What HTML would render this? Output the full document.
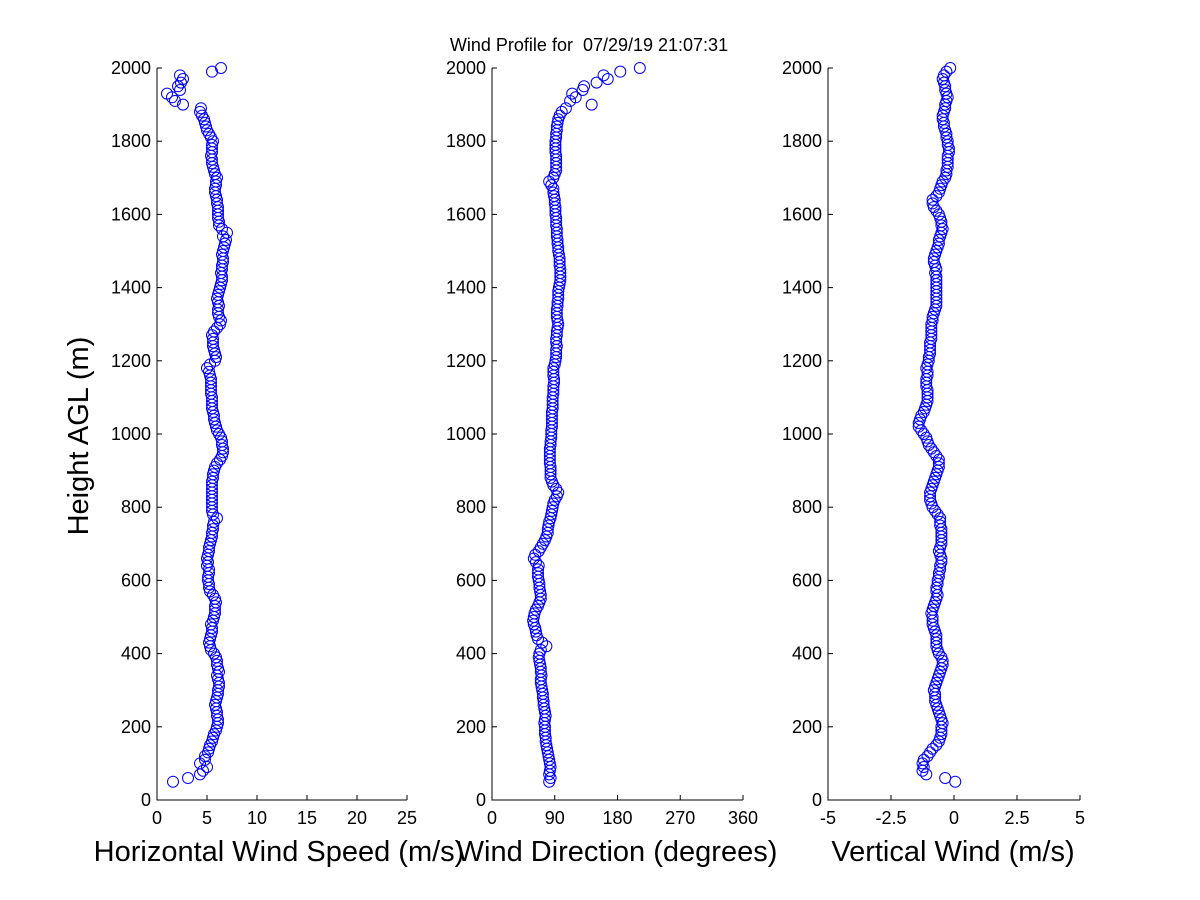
<!DOCTYPE html>
<html><head><meta charset="utf-8"><style>
html,body{margin:0;padding:0;background:#fff;}
svg{display:block;font-family:"Liberation Sans",Arial,sans-serif;}
</style></head><body>
<svg id="chart" width="1200" height="900" viewBox="0 0 1200 900">
<rect width="1200" height="900" fill="#fff"/>
<text x="589" y="51" font-size="18" text-anchor="middle" xml:space="preserve">Wind Profile for  07/29/19 21:07:31</text>
<text transform="translate(88,436) rotate(-90)" font-size="29" text-anchor="middle">Height AGL (m)</text>
</svg>
<script>
const heightStart = 50, heightStep = 10;
const speedValues = [1.6,3.1,4.3,4.6,5.0,
4.3,4.8,4.8,5.1,5.2,5.3,5.5,5.6,5.7,5.9,
6.0,6.1,6.1,6.0,6.0,5.9,5.8,5.9,6.0,6.1,
6.1,6.2,6.2,6.1,6.0,6.2,6.1,6.0,6.0,5.9,
5.7,5.4,5.3,5.2,5.3,5.4,5.5,5.5,5.4,5.6,
5.7,5.8,5.8,5.8,5.9,5.8,5.6,5.3,5.2,5.2,
5.1,5.1,5.2,5.2,5.0,5.1,5.0,5.1,5.2,5.2,
5.3,5.4,5.5,5.5,5.6,5.6,5.7,6.0,5.6,5.5,
5.5,5.5,5.5,5.5,5.5,5.5,5.5,5.5,5.6,5.6,
5.7,5.8,6.0,6.3,6.5,6.6,6.6,6.5,6.5,6.4,
6.2,6.0,5.9,5.8,5.7,5.7,5.6,5.5,5.5,5.5,
5.5,5.4,5.4,5.4,5.4,5.4,5.3,5.2,5.0,5.3,
5.8,5.9,5.8,5.7,5.6,5.6,5.6,5.5,5.7,6.0,
6.3,6.4,6.2,6.1,6.1,6.2,6.1,6.0,6.1,6.2,
6.3,6.4,6.5,6.5,6.4,6.5,6.5,6.6,6.6,6.5,
6.6,6.7,6.8,6.9,6.6,7.0,6.5,6.2,6.2,6.1,
6.1,6.1,6.1,6.0,6.0,5.9,5.8,5.8,5.9,5.9,
6.0,5.8,5.7,5.6,5.5,5.5,5.4,5.5,5.5,5.5,
5.6,5.4,5.2,5.0,4.9,4.8,4.7,4.5,4.3,4.4,
2.6,1.8,1.5,1.0,2.3,2.1,2.4,2.6,2.3,5.5,
6.4];
const directionValues = [82,84,82,83,84,
83,82,81,80,79,78,77,77,76,76,
76,75,76,77,76,75,74,74,73,73,
72,71,70,70,71,70,70,69,68,67,
68,70,78,72,66,64,63,62,60,59,
60,61,63,66,68,70,70,69,68,68,
67,66,66,66,67,63,60,62,67,70,
73,76,78,80,80,81,82,84,85,86,
87,88,90,93,95,92,88,86,84,84,
84,84,83,83,83,83,83,84,84,85,
85,85,86,86,86,86,86,87,87,87,
87,88,88,88,89,89,88,88,88,90,
91,92,92,92,93,92,92,93,93,94,
95,94,93,93,93,94,94,95,95,95,
96,97,98,98,98,98,97,97,97,96,
95,95,94,94,93,93,93,92,92,92,
91,91,91,90,90,89,88,88,85,82,
88,90,92,92,92,92,92,91,91,91,
91,92,92,93,93,94,95,97,100,106,
143,112,120,115,130,132,150,166,160,184,
212];
const verticalValues = [0.05,-0.35,-1.1,-1.25,-1.2,
-1.25,-1.2,-1.05,-0.95,-0.85,-0.7,-0.6,-0.55,-0.5,-0.5,
-0.5,-0.45,-0.5,-0.55,-0.6,-0.65,-0.7,-0.75,-0.75,-0.75,
-0.8,-0.75,-0.7,-0.65,-0.6,-0.55,-0.5,-0.45,-0.45,-0.5,
-0.6,-0.65,-0.7,-0.7,-0.7,-0.7,-0.75,-0.8,-0.85,-0.85,
-0.85,-0.9,-0.85,-0.8,-0.75,-0.7,-0.65,-0.7,-0.7,-0.65,
-0.65,-0.6,-0.6,-0.55,-0.55,-0.5,-0.5,-0.55,-0.6,-0.55,
-0.5,-0.5,-0.5,-0.5,-0.5,-0.55,-0.55,-0.55,-0.65,-0.75,
-0.85,-0.9,-0.95,-0.95,-0.95,-0.9,-0.85,-0.8,-0.75,-0.7,
-0.65,-0.6,-0.6,-0.6,-0.7,-0.8,-0.9,-1.0,-1.05,-1.1,
-1.2,-1.3,-1.4,-1.4,-1.35,-1.3,-1.2,-1.15,-1.1,-1.05,
-1.05,-1.05,-1.05,-1.1,-1.1,-1.1,-1.05,-1.05,-1.1,-1.05,
-1.0,-1.0,-0.95,-0.95,-0.95,-0.95,-0.9,-0.9,-0.9,-0.9,
-0.9,-0.85,-0.85,-0.8,-0.75,-0.7,-0.7,-0.7,-0.7,-0.7,
-0.7,-0.7,-0.7,-0.7,-0.75,-0.7,-0.75,-0.8,-0.8,-0.75,
-0.7,-0.65,-0.6,-0.6,-0.55,-0.5,-0.45,-0.5,-0.5,-0.55,
-0.6,-0.7,-0.8,-0.85,-0.85,-0.7,-0.6,-0.55,-0.5,-0.45,
-0.35,-0.3,-0.3,-0.25,-0.25,-0.25,-0.25,-0.2,-0.2,-0.25,
-0.25,-0.3,-0.3,-0.35,-0.4,-0.4,-0.45,-0.45,-0.4,-0.35,
-0.35,-0.3,-0.25,-0.3,-0.35,-0.35,-0.4,-0.45,-0.4,-0.3,
-0.15];
const yTicks = [0,200,400,600,800,1000,1200,1400,1600,1800,2000];
const speedTicks = [0,5,10,15,20,25];
const speedTickLabels = ["0","5","10","15","20","25"];
const directionTicks = [0,90,180,270,360];
const directionTickLabels = ["0","90","180","270","360"];
const verticalTicks = [-5,-2.5,0,2.5,5];
const verticalTickLabels = ["-5","-2.5","0","2.5","5"];

const NS = "http://www.w3.org/2000/svg";
const svg = document.getElementById("chart");
const Y0 = 800, Y1 = 68;
function yScale(h){ return Y0 - (h/2000)*(Y0-Y1); }
function mk(tag, attrs, parent){
  const e = document.createElementNS(NS, tag);
  for (const k in attrs) e.setAttribute(k, attrs[k]);
  (parent||svg).appendChild(e);
  return e;
}
function panel(key, left, right, xmin, xmax, ticks, labels, values, title, titleX){
  const g = mk("g", {});
  
  
  const xs = v => left + (v - xmin)/(xmax - xmin)*(right-left);
  const ax = mk("path", {d:`M${left},${Y1}V${Y0}H${right}`, stroke:"#000", fill:"none", "stroke-width":1}, g);
  
  
  yTicks.forEach(t=>{
    const y = yScale(t);
    mk("line",{x1:left,x2:left+5,y1:y,y2:y,stroke:"#000"},g);
    const tx = mk("text",{x:left-6,y:y+6,"font-size":18,"text-anchor":"end"},g);
    tx.textContent = t;
    
    
  });
  ticks.forEach((t,i)=>{
    const x = xs(t);
    mk("line",{x1:x,x2:x,y1:Y0,y2:Y0-5,stroke:"#000"},g);
    const tx = mk("text",{x:x,y:824,"font-size":18,"text-anchor":"middle"},g);
    tx.textContent = labels[i];
    
    
  });
  values.forEach((v,i)=>{
    const h = heightStart + i*heightStep;
    const c = mk("circle",{cx:xs(v),cy:yScale(h),r:5.5,fill:"none",stroke:"#0000ff","stroke-width":1},g);
    
    
  });
  const tt = mk("text",{x:titleX,y:861,"font-size":29,"text-anchor":"middle"},g);
  tt.textContent = title;
  
  
}
panel("speed",157,407,0,25,speedTicks,speedTickLabels,speedValues,"Horizontal Wind Speed (m/s)",279);
panel("direction",492,743,0,360,directionTicks,directionTickLabels,directionValues,"Wind Direction (degrees)",617);
panel("vertical",828,1080,-5,5,verticalTicks,verticalTickLabels,verticalValues,"Vertical Wind (m/s)",953);
</script>
</body></html>
